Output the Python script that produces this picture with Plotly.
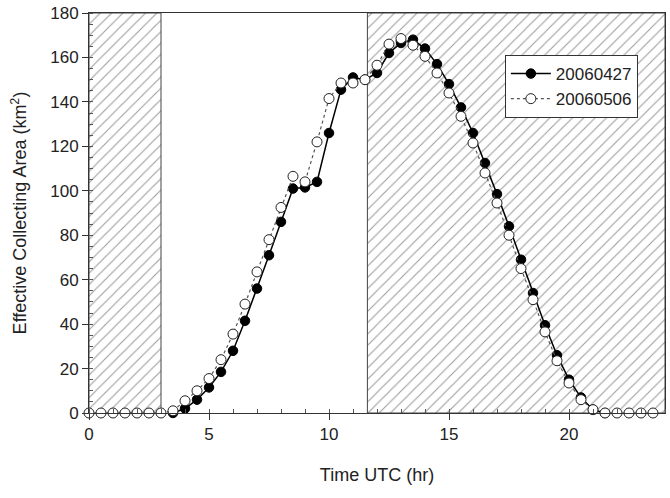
import plotly.graph_objects as go

# ---- data ----
hours_427 = [3.5, 4.0, 4.5, 5.0, 5.5, 6.0, 6.5, 7.0, 7.5, 8.0, 8.5, 9.0, 9.5, 10.0,
             10.5, 11.0, 11.5, 12.0, 12.5, 13.0, 13.5, 14.0, 14.5, 15.0, 15.5, 16.0,
             16.5, 17.0, 17.5, 18.0, 18.5, 19.0, 19.5, 20.0, 20.5, 21.0, 21.5]
area_427 = [0, 2, 6, 11.5, 18.5, 28, 41.5, 56, 71, 86, 101, 101.5, 104, 126,
            145.5, 151, 150, 153, 162, 166.5, 168, 164, 157, 148, 137.5, 126,
            112.5, 98.5, 84, 69, 54, 39.5, 26, 15, 7, 1.5, 0]

hours_506 = [0.0, 0.5, 1.0, 1.5, 2.0, 2.5, 3.0, 3.5, 4.0, 4.5, 5.0, 5.5, 6.0, 6.5,
             7.0, 7.5, 8.0, 8.5, 9.0, 9.5, 10.0, 10.5, 11.0, 11.5, 12.0, 12.5, 13.0,
             13.5, 14.0, 14.5, 15.0, 15.5, 16.0, 16.5, 17.0, 17.5, 18.0, 18.5, 19.0,
             19.5, 20.0, 20.5, 21.0, 21.5, 22.0, 22.5, 23.0, 23.5]
area_506 = [0, 0, 0, 0, 0, 0, 0, 1, 5.5, 10, 15.5, 24, 35.5, 49,
            63.5, 78, 92.5, 106.5, 104, 122, 141.5, 148.5, 148.5, 150, 156.5, 166, 168.5,
            165.5, 160.5, 153, 144, 133.5, 121.5, 108, 94.5, 80, 65, 51, 36.5,
            23.5, 13.5, 6, 1.5, 0, 0, 0, 0, 0]

# shaded (night) intervals, hours UTC
shade_start = [0.0, 11.6]
shade_end = [3.0, 24.0]

series_names = ["20060427", "20060506"]
x_range = [0, 24]
y_range = [0, 180]

fig = go.Figure()

for s, e in zip(shade_start, shade_end):
    fig.add_trace(go.Scatter(
        x=[s, e, e, s, s], y=[y_range[0], y_range[0], y_range[1], y_range[1], y_range[0]],
        mode="lines", fill="toself",
        fillcolor="white",
        fillpattern=dict(shape="/", fgcolor="#3c3c3c", bgcolor="white", size=8, solidity=0.14),
        line=dict(color="#444444", width=1),
        hoverinfo="skip", showlegend=False,
    ))

fig.add_trace(go.Scatter(
    x=hours_427, y=area_427, name=series_names[0], mode="lines+markers",
    line=dict(color="black", width=1.5),
    marker=dict(symbol="circle", size=9.5, color="black", line=dict(color="black", width=1)),
    cliponaxis=False,
))
fig.add_trace(go.Scatter(
    x=hours_506, y=area_506, name=series_names[1], mode="lines+markers",
    line=dict(color="#555555", width=1.2, dash="dot"),
    marker=dict(symbol="circle", size=10, color="white", line=dict(color="#222222", width=1)),
    cliponaxis=False,
))

font_family = "Liberation Sans, Arial, sans-serif"

fig.update_layout(
    width=670, height=498,
    margin=dict(l=89, r=5, t=13, b=85),
    paper_bgcolor="white", plot_bgcolor="white",
    font=dict(family=font_family, size=17, color="#222222"),
    showlegend=True,
    legend=dict(x=0.722, y=0.895, xanchor="left", yanchor="top",
                bgcolor="white", bordercolor="#333333", borderwidth=1,
                font=dict(size=17, color="#222222"), tracegroupgap=4,
                itemwidth=40),
)
fig.update_xaxes(
    range=x_range, dtick=5, tick0=0,
    showgrid=False, zeroline=False,
    showline=True, linecolor="#333333", linewidth=1, mirror=True,
    ticks="outside", ticklen=6, tickcolor="#333333",
    minor=dict(dtick=1, ticks="inside", ticklen=4, tickcolor="#555555", showgrid=False),
    title=dict(text="Time UTC (hr)", font=dict(size=18), standoff=24),
)
fig.update_yaxes(
    range=y_range, dtick=20, tick0=0,
    showgrid=False, zeroline=False,
    showline=True, linecolor="#333333", linewidth=1, mirror=True,
    ticks="outside", ticklen=6, tickcolor="#333333",
    minor=dict(dtick=5, ticks="inside", ticklen=4, tickcolor="#555555", showgrid=False),
    title=dict(text="Effective Collecting Area (km<sup>2</sup>)", font=dict(size=18), standoff=18),
)

fig.write_html("out.html")
